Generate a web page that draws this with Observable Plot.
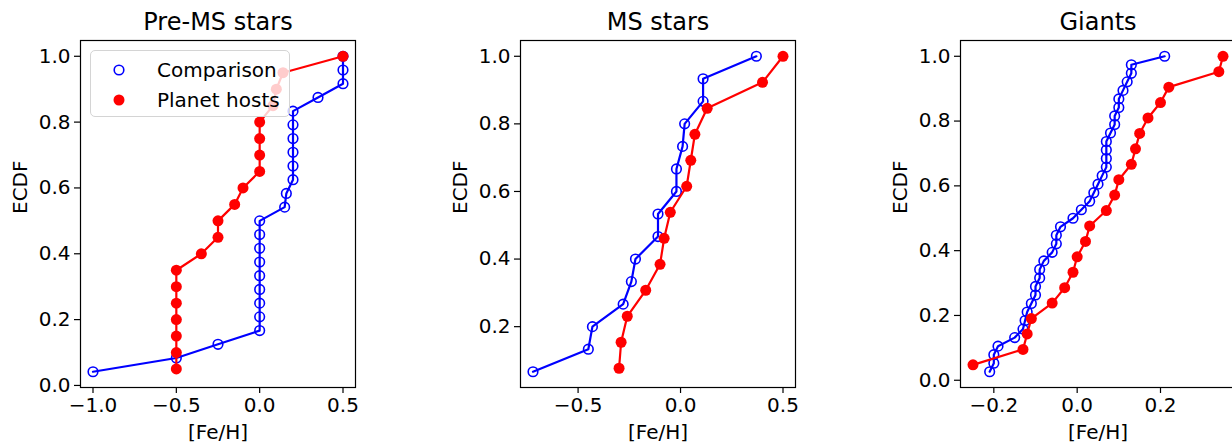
<!DOCTYPE html>
<html><head><meta charset="utf-8">
<script src="https://cdn.jsdelivr.net/npm/d3@7"></script>
<script src="https://cdn.jsdelivr.net/npm/@observablehq/plot@0.6"></script>
<style>
body{margin:0;background:#fff;}
#fig{position:relative;width:1232px;height:444px;overflow:hidden;background:#fff;font-family:"DejaVu Sans",sans-serif;}
.panel{position:absolute;top:0;}
#legend{position:absolute;left:90px;top:50px;width:200px;height:67px;border:1px solid #d4d4d4;border-radius:5px;background:rgba(255,255,255,0.8);box-sizing:border-box;}
#legend .row{position:absolute;left:0;height:30px;width:100%;}
#legend .lbl{position:absolute;left:66px;font-size:20px;line-height:30px;color:#000;white-space:nowrap;}
#legend svg{position:absolute;left:0;top:0;}
</style></head><body><div id="fig"></div>
<script>
// ---- data: [Fe/H] values per sample ----
const panelTitles = ["Pre-MS stars", "MS stars", "Giants"];
const seriesNames = ["Comparison", "Planet hosts"];

const preMsComparison = [-1.0, -0.5, -0.25, 0, 0, 0, 0, 0, 0, 0, 0, 0, 0.15, 0.16, 0.2, 0.2, 0.2, 0.2, 0.2, 0.2, 0.35, 0.5, 0.5, 0.5];
const preMsHosts = [-0.5, -0.5, -0.5, -0.5, -0.5, -0.5, -0.5, -0.35, -0.25, -0.25, -0.15, -0.1, 0, 0, 0, 0, 0.08, 0.1, 0.14, 0.5];

const msComparison = [-0.72, -0.45, -0.43, -0.28, -0.24, -0.22, -0.11, -0.11, -0.02, -0.02, 0.01, 0.02, 0.11, 0.11, 0.37];
const msHosts = [-0.30, -0.29, -0.26, -0.17, -0.10, -0.08, -0.05, 0.03, 0.05, 0.07, 0.13, 0.40, 0.50];

const giantsComparison = [-0.21, -0.20, -0.20, -0.19, -0.15, -0.13, -0.125, -0.12, -0.11, -0.10,
  -0.10, -0.09, -0.09, -0.08, -0.06, -0.05, -0.05, -0.04, -0.01, 0.01,
  0.03, 0.04, 0.05, 0.06, 0.07, 0.07, 0.07, 0.07, 0.08, 0.09,
  0.09, 0.10, 0.10, 0.11, 0.12, 0.13, 0.13, 0.21];
const giantsHosts = [-0.25, -0.13, -0.12, -0.11, -0.06, -0.03, -0.01, 0.0, 0.02, 0.03, 0.07, 0.09, 0.10, 0.13, 0.14, 0.15, 0.17, 0.20, 0.22, 0.34, 0.35];

const preMsXTicks = [-1.0, -0.5, 0.0, 0.5];
const msXTicks = [-0.5, 0.0, 0.5];
const giantsXTicks = [-0.2, 0.0, 0.2];
const yTicks = [0.0, 0.2, 0.4, 0.6, 0.8, 1.0];

// ---- styling / layout ----
const blue = "#0000ff", red = "#ff0000";
const frameW = 275, mL = 80, mR = 15, mT = 40, mB = 57, H = 444;
const panelLefts = [0, 440, 880];
const fs = 20;

function ecdf(arr) {
  const s = arr.slice().sort((a, b) => a - b);
  return s.map((v, i) => ({x: v, y: (i + 1) / s.length}));
}
function padDomain(lo, hi) { const r = hi - lo; return [lo - 0.05 * r, hi + 0.05 * r]; }

function makePanel(title, comp, hosts, xTicks, left) {
  const c = ecdf(comp), h = ecdf(hosts);
  const all = c.concat(h);
  const xd = padDomain(d3.min(all, d => d.x), d3.max(all, d => d.x));
  const yd = padDomain(d3.min(all, d => d.y), d3.max(all, d => d.y));
  const yt = yTicks.filter(t => t >= yd[0] && t <= yd[1]);
  const xt = xTicks.filter(t => t >= xd[0] && t <= xd[1]);
  const svg = Plot.plot({
    width: mL + frameW + mR, height: H,
    marginLeft: mL, marginRight: mR, marginTop: mT, marginBottom: mB,
    style: {fontFamily: "DejaVu Sans, sans-serif", fontSize: fs + "px", background: "transparent", color: "black", overflow: "visible"},
    x: {domain: xd}, y: {domain: yd},
    marks: [
      Plot.axisX(xt, {tickSize: 6, tickPadding: 4, tickFormat: d3.format(".1f"), label: null, fontSize: fs, stroke: "black", strokeWidth: 1.2}),
      Plot.axisY(yt, {tickSize: 6, tickPadding: 4, tickFormat: d3.format(".1f"), label: null, fontSize: fs, stroke: "black", strokeWidth: 1.2}),
      Plot.line(c, {x: "x", y: "y", stroke: blue, strokeWidth: 2.2}),
      Plot.dot(c, {x: "x", y: "y", r: 4.8, stroke: blue, strokeWidth: 1.6, fill: "none"}),
      Plot.line(h, {x: "x", y: "y", stroke: red, strokeWidth: 2.2}),
      Plot.dot(h, {x: "x", y: "y", r: 5.5, fill: red, stroke: "none"}),
      Plot.frame({stroke: "black", strokeWidth: 1.2}),
      Plot.text([title], {text: d => d, frameAnchor: "top", dy: -18, fontSize: 24, lineAnchor: "middle"}),
      Plot.text(["ECDF"], {text: d => d, frameAnchor: "left", dx: -60, rotate: -90, fontSize: fs, lineAnchor: "middle"}),
      Plot.text(["[Fe/H]"], {text: d => d, frameAnchor: "bottom", dy: 45, fontSize: fs, lineAnchor: "middle"})
    ]
  });
  svg.classList.add("panel");
  svg.style.left = left + "px";
  return svg;
}

const fig = document.getElementById("fig");
fig.appendChild(makePanel(panelTitles[0], preMsComparison, preMsHosts, preMsXTicks, panelLefts[0]));
fig.appendChild(makePanel(panelTitles[1], msComparison, msHosts, msXTicks, panelLefts[1]));
fig.appendChild(makePanel(panelTitles[2], giantsComparison, giantsHosts, giantsXTicks, panelLefts[2]));

// legend
const legend = document.createElement("div");
legend.id = "legend";
seriesNames.forEach((name, i) => {
  const row = document.createElement("div");
  row.className = "row";
  row.style.top = (4 + i * 30) + "px";
  const ns = "http://www.w3.org/2000/svg";
  const s = document.createElementNS(ns, "svg");
  s.setAttribute("width", 60); s.setAttribute("height", 30);
  const circ = document.createElementNS(ns, "circle");
  circ.setAttribute("cx", 28); circ.setAttribute("cy", 15);
  if (i === 0) { circ.setAttribute("r", 4.8); circ.setAttribute("fill", "none"); circ.setAttribute("stroke", blue); circ.setAttribute("stroke-width", 1.6); }
  else { circ.setAttribute("r", 5.5); circ.setAttribute("fill", red); }
  s.appendChild(circ);
  row.appendChild(s);
  const lbl = document.createElement("span");
  lbl.className = "lbl";
  lbl.textContent = name;
  row.appendChild(lbl);
  legend.appendChild(row);
});
fig.appendChild(legend);
</script></body></html>
